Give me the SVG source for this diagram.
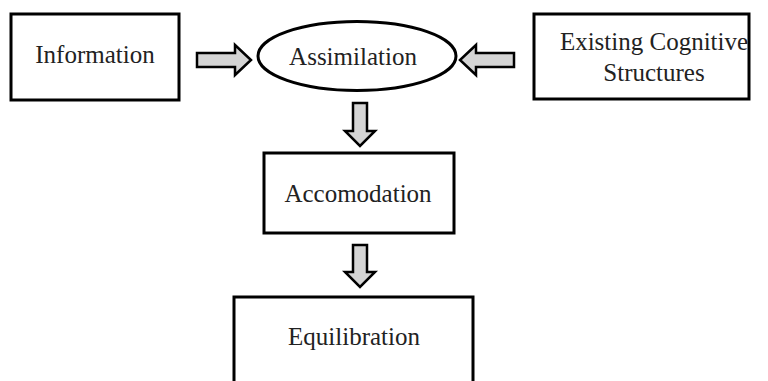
<svg xmlns="http://www.w3.org/2000/svg" width="768" height="381" viewBox="0 0 768 381">
<style>
.box{fill:#fff;stroke:#000;stroke-width:3}
.lbl{font-family:"Liberation Serif","Times New Roman",serif;font-size:25px;fill:#222;text-anchor:middle}
.arr{fill:#d4d4d4;stroke:#000;stroke-width:2.5;stroke-linejoin:miter}
</style>
<rect width="768" height="381" fill="#fff"/>
<g id="connectors">
<polygon class="arr" points="197,53 235,53 235,45 251,60 235,75 235,67 197,67"/>
<polygon class="arr" points="514,53 476,53 476,45 460,60 476,75 476,67 514,67"/>
<polygon class="arr" points="353,103 367,103 367,131 375,131 360,146 345,131 353,131"/>
<polygon class="arr" points="353,245 367,245 367,272 375,272 360,287 345,272 353,272"/>
</g>
<g id="information">
<rect class="box" x="11" y="14" width="168" height="86"/>
<text class="lbl" x="95" y="63">Information</text>
</g>
<g id="assimilation">
<ellipse class="box" cx="357" cy="56" rx="99" ry="34.5"/>
<text class="lbl" x="353" y="65">Assimilation</text>
</g>
<g id="existing">
<rect class="box" x="534" y="14" width="215" height="85"/>
<text class="lbl" x="654" y="50">Existing Cognitive</text>
<text class="lbl" x="654" y="81">Structures</text>
</g>
<g id="accomodation">
<rect class="box" x="264" y="153" width="190" height="80"/>
<text class="lbl" x="358" y="202">Accomodation</text>
</g>
<g id="equilibration">
<path class="box" d="M234,383 V297 H473 V383"/>
<text class="lbl" x="354" y="345">Equilibration</text>
</g>
</svg>
